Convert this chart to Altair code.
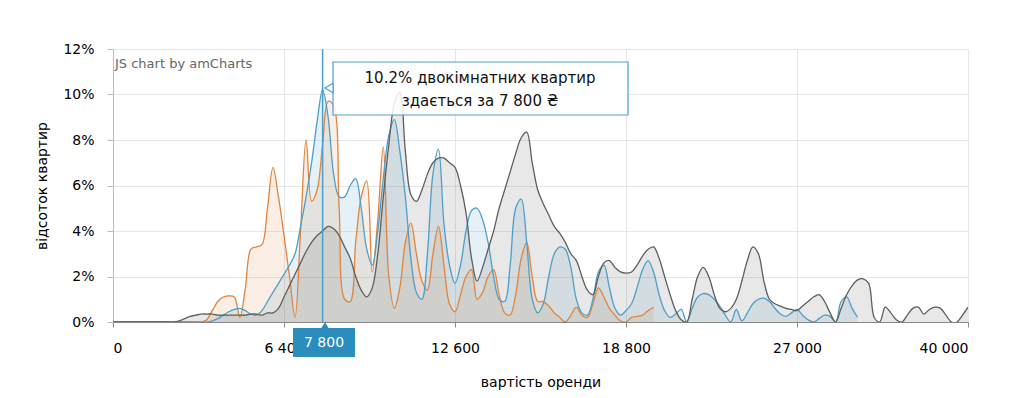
import altair as alt
import pandas as pd

# ---- data ----
series_names = ["однокімнатні", "двокімнатні", "трикімнатні"]
series_colors = ["#e0843e", "#4b9fc8", "#5e5e5e"]

# category index -> value (%); orange = 1-room, blue = 2-room, grey = 3-room
one_room = [0] * 17 + [
    0.1, 0.5, 0.9, 1.1, 1.15, 1.1, 0.2, 1.5, 3.2, 3.3,          # 17-26
    3.4, 5.0, 6.8, 5.5, 3.8, 2.0, 0.2, 4.0, 8.0, 5.3,           # 27-36
    5.8, 7.8, 9.7, 9.5, 5.0, 1.0, 0.9, 3.5, 5.5, 6.2,           # 37-46
    2.2, 4.5, 7.7, 2.0, 0.6, 1.5, 3.5, 4.35, 3.0, 1.8,          # 47-56
    1.4, 3.0, 4.2, 2.5, 0.8, 0.45, 1.2, 2.0, 2.3, 1.0,          # 57-66
    1.3, 2.0, 2.3, 1.2, 0.4, 0.3, 1.2, 2.8, 3.5, 2.0,           # 67-76
    0.9, 0.9, 0.7, 0.4, 0.2, 0.0, 0.3, 0.65, 0.3, 0.2,          # 77-86
    0.8, 1.5, 1.1, 0.6, 0.3, 0.05, 0.0, 0.2, 0.25, 0.3,         # 87-96
    0.5, 0.65,                                                   # 97-98
]
two_room = [0] * 18 + [
    0.05, 0.15, 0.3, 0.45, 0.55, 0.6, 0.5, 0.35, 0.3, 0.5,      # 18-27
    0.9, 1.3, 1.7, 2.1, 2.5, 3.0, 4.2, 5.5, 7.0, 8.8,           # 28-37
    10.2, 9.0, 6.5, 5.5, 5.5, 6.0, 6.3, 5.0, 3.2, 2.5,          # 38-47
    4.0, 6.3, 8.2, 8.9, 7.5, 5.5, 2.8, 1.3, 1.0, 3.0,           # 48-57
    6.5, 7.6, 4.3, 2.5, 1.7, 2.5, 4.0, 4.9, 5.0, 4.5,           # 58-67
    3.5, 2.0, 1.0, 0.9, 2.5, 5.0, 5.4, 3.5, 1.0, 0.4,           # 68-77
    0.8, 2.0, 3.0, 3.3, 3.2, 2.4, 1.0, 0.4, 0.3, 1.0,           # 78-87
    2.2, 2.5, 1.5, 0.6, 0.3, 0.5, 0.8, 1.5, 2.3, 2.7,           # 88-97
    2.2, 1.2, 0.5, 0.2, 0.35, 0.55, 0.0, 0.6, 1.1, 1.25,        # 98-107
    1.2, 1.0, 0.7, 0.3, 0.0, 0.55, 0.05, 0.4, 0.8, 1.0,         # 108-117
    1.05, 0.9, 0.6, 0.35, 0.25, 0.4, 0.55, 0.3, 0.1, 0.0,       # 118-127
    0.15, 0.3, 0.25, 0.0, 0.9, 1.1, 0.6, 0.2,                   # 128-135
]
three_room = [0] * 12 + [
    0.05, 0.15, 0.25, 0.3, 0.35, 0.35, 0.35, 0.3, 0.3, 0.3,     # 12-21
    0.3, 0.3, 0.3, 0.35, 0.35, 0.3, 0.4, 0.4, 0.6, 1.1,         # 22-31
    1.6, 2.1, 2.6, 3.1, 3.5, 3.8, 4.0, 4.2, 4.1, 3.8,           # 32-41
    3.3, 2.8, 2.0, 1.4, 1.1, 1.5, 3.0, 5.5, 7.8, 9.6,           # 42-51
    10.1, 7.5, 5.6, 5.3, 5.8, 6.5, 7.0, 7.2, 7.2, 7.0,          # 52-61
    6.8, 6.0, 4.8, 2.8, 1.8, 2.4, 3.2, 4.0, 5.0, 5.8,           # 62-71
    6.6, 7.4, 8.1, 8.35, 7.0, 5.8, 5.2, 4.7, 4.2, 3.9,          # 72-81
    3.5, 3.0, 2.7, 2.0, 1.4, 1.2, 2.0, 2.6, 2.7, 2.4,           # 82-91
    2.2, 2.15, 2.2, 2.5, 2.9, 3.2, 3.3, 2.8, 2.0, 1.2,          # 92-101
    0.5, 0.1, 0.0, 1.0, 2.0, 2.4, 2.0, 1.2, 0.6, 0.45,          # 102-111
    0.6, 1.0, 1.8, 2.7, 3.3, 3.0, 1.8, 1.0, 0.8, 0.7,           # 112-121
    0.6, 0.55, 0.5, 0.7, 0.9, 1.1, 1.2, 0.9, 0.4, 0.0,          # 122-131
    0.6, 1.2, 1.6, 1.85, 1.9, 1.7, 0.2, 0.0, 0.65, 0.4,         # 132-141
    0.1, 0.0, 0.3, 0.6, 0.65, 0.35, 0.55, 0.65, 0.6, 0.3,       # 142-151
    0.0, 0.0, 0.3, 0.65,                                         # 152-155
]

tick_positions = [0, 31, 62, 93, 124, 155]
tick_labels = ["0", "6 400", "12 600", "18 800", "27 000", "40 000"]
y_ticks = [0, 2, 4, 6, 8, 10, 12]

cursor_index = 38
cursor_label = "7 800"

# ---- build table ----
rows = []
for name, vals in zip(series_names, [one_room, two_room, three_room]):
    for i, v in enumerate(vals):
        rows.append({"series": name, "idx": i, "pct": v})
df = pd.DataFrame(rows)

FONT = "DejaVu Sans"
INTERP = "catmull-rom"
label_expr = "[{}][indexof([{}], datum.value)]".format(
    ",".join("'" + t + "'" for t in tick_labels),
    ",".join(str(p) for p in tick_positions),
)

x_enc = alt.X(
    "idx:Q",
    scale=alt.Scale(domain=[0, 155], nice=False, zero=False),
    axis=alt.Axis(
        values=tick_positions, labelExpr=label_expr, title="вартість оренди",
        grid=True, tickSize=5, labelPadding=14, titlePadding=20,
        domainColor="#888888", tickColor="#888888",
    ),
)
y_enc = alt.Y(
    "pct:Q", stack=None,
    scale=alt.Scale(domain=[0, 12], nice=False),
    axis=alt.Axis(
        values=y_ticks, labelExpr="datum.value + '%'", title="відсоток квартир",
        grid=True, tickSize=6, labelPadding=13, titlePadding=13,
        domainColor="#bbbbbb", tickColor="#bbbbbb",
    ),
)
color_enc = alt.Color(
    "series:N", scale=alt.Scale(domain=series_names, range=series_colors), legend=None
)

base = alt.Chart(df)
areas = base.mark_area(interpolate=INTERP, fillOpacity=0.14, clip=True).encode(
    x=x_enc, y=y_enc, color=color_enc
)
lines = base.mark_line(interpolate=INTERP, strokeWidth=1.3, clip=True).encode(
    x="idx:Q", y="pct:Q", color=color_enc
)

one = pd.DataFrame({"idx": [cursor_index]})
cursor = alt.Chart(one).mark_rule(color="#4a9fcc", strokeWidth=1.5).encode(x="idx:Q")

credit = alt.Chart(one).mark_text(
    align="left", baseline="middle", fontSize=13, font=FONT, color="#666666"
).encode(x=alt.value(2), y=alt.value(15), text=alt.value("JS chart by amCharts"))

balloon_box = alt.Chart(one).mark_rect(
    fill="white", fillOpacity=0.85, stroke="#4a9fcc", strokeWidth=1.2
).encode(x=alt.value(220), x2=alt.value(515), y=alt.value(13), y2=alt.value(66))
balloon_tip = alt.Chart(one).mark_point(
    shape="triangle-left", filled=True, fill="white", stroke="#4a9fcc",
    strokeWidth=1.2, size=90, opacity=1,
).encode(x=alt.value(216), y=alt.value(39))

line1 = "{}% двокімнатних квартир".format(two_room[cursor_index])
line2 = "здається за {} ₴".format(cursor_label)
text_style = dict(align="center", baseline="middle", fontSize=15, font=FONT, color="#111111")
balloon_text1 = alt.Chart(one).mark_text(**text_style).encode(
    x=alt.value(367), y=alt.value(29), text=alt.value(line1)
)
balloon_text2 = alt.Chart(one).mark_text(**text_style).encode(
    x=alt.value(367), y=alt.value(52), text=alt.value(line2)
)

cat_box = alt.Chart(one).mark_rect(fill="#2b8cbe").encode(
    x=alt.value(180), x2=alt.value(242), y=alt.value(279), y2=alt.value(308)
)
cat_tip = alt.Chart(one).mark_point(
    shape="triangle-up", filled=True, color="#2b8cbe", size=50, opacity=1
).encode(x=alt.value(212), y=alt.value(276))
cat_text = alt.Chart(one).mark_text(
    align="center", baseline="middle", fontSize=14, font=FONT, color="white"
).encode(x=alt.value(211), y=alt.value(294), text=alt.value(cursor_label))

chart = alt.layer(
    areas, lines, cursor, credit, balloon_box, balloon_tip, balloon_text1,
    balloon_text2, cat_box, cat_tip, cat_text,
).properties(
    width=855, height=273,
    padding={"left": 105, "top": 41, "right": 30, "bottom": 70},
    autosize=alt.AutoSizeParams(type="none"),
).configure_view(stroke=None).configure_axis(
    labelFont=FONT, titleFont=FONT, labelFontSize=14, titleFontSize=14,
    labelColor="#000000", titleColor="#000000", titleFontWeight="normal",
    gridColor="#e6e6e6",
)

chart.save("out.html", embed_options={"renderer": "svg", "actions": False})
